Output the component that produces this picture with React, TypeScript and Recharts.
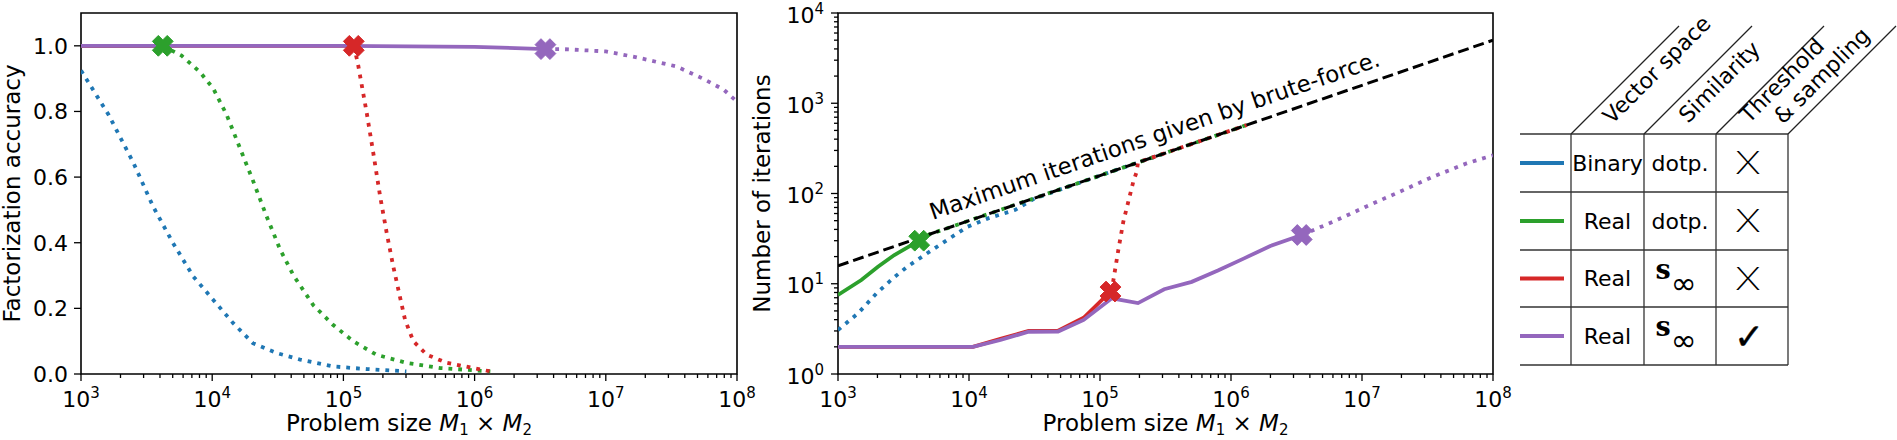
import { CartesianGrid, ComposedChart, Line, ReferenceArea, Scatter, XAxis, YAxis } from "recharts"

const FONT = "DejaVu Sans"
const BLUE = "#1f77b4"
const GREEN = "#2ca02c"
const RED = "#d62728"
const PURPLE = "#9467bd"

// ---- ticks ----
const xDecades = [3, 4, 5, 6, 7, 8]
const yDecades = [0, 1, 2, 3, 4]
const minorSteps = [2, 3, 4, 5, 6, 7, 8, 9]
const accTicks = [0, 0.2, 0.4, 0.6, 0.8, 1.0]

const logTicks = (decades: number[]) =>
  [
    ...decades.map((d) => 10 ** d),
    ...decades.slice(0, -1).flatMap((d) => minorSteps.map((m) => m * 10 ** d)),
  ].sort((a, b) => a - b)
const xTicks = logTicks(xDecades)
const yTicks = logTicks(yDecades)
const xMajor = xDecades.map((d) => 10 ** d)
const yMajor = yDecades.map((d) => 10 ** d)

// ---- left panel: factorization accuracy ----
const blueAccX = [1000, 1622, 2512, 3548, 5012, 7178, 10233, 14454, 20417, 30903, 46774, 83176, 151356, 301995]
const blueAcc = [0.925, 0.79, 0.643, 0.51, 0.4, 0.297, 0.225, 0.155, 0.094, 0.064, 0.044, 0.023, 0.015, 0.008]

const greenSolidAccX = [1000, 4200]
const greenSolidAcc = [1, 1]
const greenAccX = [4200, 5848, 8072, 10186, 12882, 16218, 20417, 26002, 32885, 41687, 58884, 83176, 118850, 177828, 301995, 549541, 1318257]
const greenAcc = [1.0, 0.97, 0.92, 0.87, 0.79, 0.69, 0.59, 0.48, 0.38, 0.3, 0.21, 0.15, 0.1, 0.059, 0.034, 0.018, 0.008]

const redSolidAccX = [1000, 120000]
const redSolidAcc = [1, 1]
const redAccX = [120000, 128825, 150661, 169044, 190546, 213796, 239883, 269153, 295121, 341193, 431519, 612350, 1318257]
const redAcc = [1.0, 0.947, 0.795, 0.673, 0.541, 0.43, 0.328, 0.237, 0.165, 0.1, 0.059, 0.034, 0.008]

const purpleSolidAccX = [1000, 100000, 1000000, 3467369]
const purpleSolidAcc = [1.0, 1.0, 0.997, 0.99]
const purpleAccX = [3467369, 4677351, 10000000, 17179084, 34673685, 54954087, 79432823, 100000000]
const purpleAcc = [0.99, 0.99, 0.983, 0.965, 0.937, 0.9, 0.866, 0.83]

const accMarkX = [4200, 120000, 3467369]
const accMarkY = [1.0, 1.0, 0.99]

// ---- right panel: number of iterations ----
const maxIterX = [1e3, 1e4, 1e5, 1e6, 1e7, 1e8]
const maxIter = [15.8, 50, 158, 500, 1581, 5000]

const blueIterX = [1000, 1422, 1963, 2630, 3388, 4571, 6918, 9772, 13964, 22387, 31623, 100000, 301995]
const blueIter = [3.07, 4.7, 7.8, 11.5, 15.5, 20.8, 31, 42.9, 53, 65.6, 88, 158, 274]

const greenSolidIterX = [1000, 1507, 2018, 2692, 4169]
const greenSolidIter = [7.5, 11.0, 15.4, 20.8, 30]
const greenIterX = [4169, 5000, 10000, 100000, 1000000, 1318257]
const greenIter = [30, 35.3, 50, 158, 500, 574]

const redSolidIterX = [1000, 10715, 17378, 28510, 47863, 74989, 120226]
const redSolidIter = [2, 2, 2.45, 3.0, 3.02, 4.2, 8.2]
const redIterX = [120226, 125893, 138038, 150661, 164437, 179473, 190546, 194984, 1000000, 1318257]
const redIter = [8.2, 10.5, 23.7, 48.7, 81, 135, 174, 221, 500, 574]

const purpleSolidIterX = [1000, 10715, 17378, 28510, 47863, 74989, 123027, 194984, 309030, 501187, 794328, 1258925, 1995262, 3467369]
const purpleSolidIter = [2, 2, 2.38, 2.94, 2.95, 3.97, 6.9, 6.1, 8.7, 10.5, 14, 19.1, 26.2, 34.7]
const purpleIterX = [3467369, 6025596, 10715193, 19498446, 34673685, 63095734, 100000000]
const purpleIter = [34.7, 48.7, 71.4, 105, 153, 216, 265]

const iterMarkX = [4169, 120226, 3467369]
const iterMarkY = [30, 8.2, 34.7]

const annotationText = "Maximum iterations given by brute-force."
const annotationAt = [{ x: 5300, y: 51 }]

// ---- legend table ----
const legendColors = [BLUE, GREEN, RED, PURPLE]
const vectorSpace = ["Binary", "Real", "Real", "Real"]
const similarity = ["dotp.", "dotp.", "s∞", "s∞"]
const thresholdSampling = [false, false, false, true]

const pts = (xs: number[], ys: number[]) => xs.map((x, i) => ({ x, y: ys[i] }))
const markColors = [GREEN, RED, PURPLE]

const isMajor = (v: number) => {
  const e = Math.log10(v)
  return Math.abs(e - Math.round(e)) < 1e-6
}

const LogXTick = ({ x, y, payload }: any) => {
  const v = payload.value
  const major = isMajor(v)
  return (
    <g>
      <line x1={x} y1={y} x2={x} y2={y + (major ? 7 : 4)} stroke="#000" strokeWidth={1.3} />
      {major && (
        <text x={x} y={y + 33} textAnchor="middle" fontSize={22} fontFamily={FONT} fill="#000">
          10
          <tspan dy={-9} fontSize={15}>
            {Math.round(Math.log10(v))}
          </tspan>
        </text>
      )}
    </g>
  )
}

const LogYTick = ({ x, y, payload }: any) => {
  const v = payload.value
  const major = isMajor(v)
  return (
    <g>
      <line x1={x} y1={y} x2={x - (major ? 7 : 4)} y2={y} stroke="#000" strokeWidth={1.3} />
      {major && (
        <text x={x - 14} y={y + 9.5} textAnchor="end" fontSize={22} fontFamily={FONT} fill="#000">
          10
          <tspan dy={-9} fontSize={15}>
            {Math.round(Math.log10(v))}
          </tspan>
        </text>
      )}
    </g>
  )
}

const AccTick = ({ x, y, payload }: any) => (
  <g>
    <line x1={x} y1={y} x2={x - 7} y2={y} stroke="#000" strokeWidth={1.3} />
    <text x={x - 13} y={y + 8} textAnchor="end" fontSize={22} fontFamily={FONT} fill="#000">
      {payload.value.toFixed(1)}
    </text>
  </g>
)

const XMark = ({ cx, cy, color }: any) => {
  const L = 10.5
  const a = 4.2
  const base = [
    [a, L], [a, a], [L, a], [L, -a], [a, -a], [a, -L],
    [-a, -L], [-a, -a], [-L, -a], [-L, a], [-a, a], [-a, L],
  ]
  const c = Math.SQRT1_2
  const p = base.map(([px, py]) => `${cx + (px - py) * c},${cy + (px + py) * c}`).join(" ")
  return <polygon points={p} fill={color} stroke={color} strokeWidth={1} strokeLinejoin="round" />
}

const gridX = (vals: number[]) => ({ xAxis }: any) =>
  typeof xAxis?.scale === "function" ? vals.map((v) => xAxis.scale(v)) : []
const gridY = (vals: number[]) => ({ yAxis }: any) =>
  typeof yAxis?.scale === "function" ? vals.map((v) => yAxis.scale(v)) : []

const solid = (data: any[], color: string) => (
  <Line data={data} dataKey="y" type="linear" stroke={color} strokeWidth={3.8} dot={false} activeDot={false} isAnimationActive={false} />
)
const dotted = (data: any[], color: string) => (
  <Line data={data} dataKey="y" type="linear" stroke={color} strokeWidth={3.8} strokeDasharray="3.8 6" dot={false} activeDot={false} isAnimationActive={false} />
)
const marker = (x: number, y: number, color: string) => (
  <Scatter data={[{ x, y }]} dataKey="y" shape={(p: any) => <XMark cx={p.cx} cy={p.cy} color={color} />} isAnimationActive={false} />
)

function AccuracyChart() {
  return (
    <ComposedChart width={770} height={440} margin={{ top: 13, right: 33, bottom: 26, left: 0 }}>
      <CartesianGrid stroke="#b0b0b0" strokeWidth={1.5} verticalCoordinatesGenerator={gridX(xMajor.slice(1, -1))} horizontalCoordinatesGenerator={gridY(accTicks.slice(1))} />
      <XAxis dataKey="x" type="number" scale="log" domain={[1e3, 1e8]} allowDataOverflow ticks={xTicks} interval={0} tick={(p: any) => <LogXTick {...p} />} tickLine={false} axisLine={false} tickSize={0} tickMargin={0} height={40} />
      <YAxis type="number" domain={[0, 1.1]} allowDataOverflow ticks={accTicks} interval={0} tick={(p: any) => <AccTick {...p} />} tickLine={false} axisLine={false} tickSize={0} tickMargin={0} width={81} />
      {dotted(pts(blueAccX, blueAcc), BLUE)}
      {solid(pts(greenSolidAccX, greenSolidAcc), GREEN)}
      {dotted(pts(greenAccX, greenAcc), GREEN)}
      {marker(accMarkX[0], accMarkY[0], markColors[0])}
      {solid(pts(redSolidAccX, redSolidAcc), RED)}
      {dotted(pts(redAccX, redAcc), RED)}
      {marker(accMarkX[1], accMarkY[1], markColors[1])}
      {solid(pts(purpleSolidAccX, purpleSolidAcc), PURPLE)}
      {dotted(pts(purpleAccX, purpleAcc), PURPLE)}
      {marker(accMarkX[2], accMarkY[2], markColors[2])}
      <ReferenceArea x1={1e3} x2={1e8} y1={0} y2={1.1} fill="none" stroke="#000" strokeWidth={1.6} />
    </ComposedChart>
  )
}

function IterationsChart() {
  return (
    <ComposedChart width={760} height={440} margin={{ top: 13, right: 37, bottom: 26, left: 0 }}>
      <CartesianGrid stroke="#b0b0b0" strokeWidth={1.5} verticalCoordinatesGenerator={gridX(xMajor.slice(1, -1))} horizontalCoordinatesGenerator={gridY(yMajor.slice(1, -1))} />
      <XAxis dataKey="x" type="number" scale="log" domain={[1e3, 1e8]} allowDataOverflow ticks={xTicks} interval={0} tick={(p: any) => <LogXTick {...p} />} tickLine={false} axisLine={false} tickSize={0} tickMargin={0} height={40} />
      <YAxis type="number" scale="log" domain={[1, 1e4]} allowDataOverflow ticks={yTicks} interval={0} tick={(p: any) => <LogYTick {...p} />} tickLine={false} axisLine={false} tickSize={0} tickMargin={0} width={68} />
      {dotted(pts(blueIterX, blueIter), BLUE)}
      {solid(pts(greenSolidIterX, greenSolidIter), GREEN)}
      {dotted(pts(greenIterX, greenIter), GREEN)}
      {marker(iterMarkX[0], iterMarkY[0], markColors[0])}
      {solid(pts(redSolidIterX, redSolidIter), RED)}
      {dotted(pts(redIterX, redIter), RED)}
      {marker(iterMarkX[1], iterMarkY[1], markColors[1])}
      {solid(pts(purpleSolidIterX, purpleSolidIter), PURPLE)}
      {dotted(pts(purpleIterX, purpleIter), PURPLE)}
      {marker(iterMarkX[2], iterMarkY[2], markColors[2])}
      <Line data={pts(maxIterX, maxIter)} dataKey="y" type="linear" stroke="#000" strokeWidth={3} strokeDasharray="11 5" dot={false} activeDot={false} isAnimationActive={false} />
      <Scatter
        data={annotationAt}
        dataKey="y"
        isAnimationActive={false}
        shape={(p: any) => (
          <text x={p.cx} y={p.cy} transform={`rotate(-19 ${p.cx} ${p.cy})`} fontSize={22.8} fontFamily={FONT} fill="#000">
            {annotationText}
          </text>
        )}
      />
      <ReferenceArea x1={1e3} x2={1e8} y1={1} y2={1e4} fill="none" stroke="#000" strokeWidth={1.6} />
    </ComposedChart>
  )
}

const Sub = ({ children }: any) => (
  <>
    <tspan fontStyle="italic">M</tspan>
    <tspan fontSize={15} dy={4}>{children}</tspan>
  </>
)

function Overlay() {
  const colX = [1571, 1644, 1716, 1788]
  const rowY = [134, 192, 250, 307, 365]
  const mid = [(colX[0] + colX[1]) / 2, (colX[1] + colX[2]) / 2, (colX[2] + colX[3]) / 2]
  const t = { fontFamily: FONT, fill: "#000" }
  const xLabel = (cx: number) => (
    <text x={cx} y={431} textAnchor="middle" fontSize={23} {...t}>
      Problem size <Sub>1</Sub>
      <tspan dy={-4}> × </tspan>
      <Sub>2</Sub>
    </text>
  )
  return (
    <svg width={1897} height={440} style={{ position: "absolute", left: 0, top: 0, pointerEvents: "none" }}>
      <text transform="translate(20,193.5) rotate(-90)" textAnchor="middle" fontSize={23} {...t}>
        Factorization accuracy
      </text>
      <text transform="translate(770,193.5) rotate(-90)" textAnchor="middle" fontSize={23} {...t}>
        Number of iterations
      </text>
      {xLabel(409)}
      {xLabel(1165.5)}

      {/* legend table */}
      {rowY.map((y) => (
        <line key={y} x1={1520} x2={colX[3]} y1={y} y2={y} stroke="#333" strokeWidth={1.3} />
      ))}
      {colX.map((x) => (
        <g key={x}>
          <line x1={x} x2={x} y1={rowY[0]} y2={rowY[4]} stroke="#333" strokeWidth={1.3} />
          <line x1={x} x2={x + 108} y1={rowY[0]} y2={rowY[0] - 108} stroke="#222" strokeWidth={1.3} />
        </g>
      ))}
      <text transform="translate(1612,125) rotate(-45)" fontSize={22} {...t}>Vector space</text>
      <text transform="translate(1688,124) rotate(-45)" fontSize={22} {...t}>Similarity</text>
      <text transform="translate(1749,124) rotate(-45)" fontSize={22} {...t}>Threshold</text>
      <text transform="translate(1783,125) rotate(-45)" fontSize={22} {...t}>&amp; sampling</text>
      {legendColors.map((c, i) => {
        const cy = (rowY[i] + rowY[i + 1]) / 2
        const sim = similarity[i]
        const check = thresholdSampling[i]
        return (
          <g key={i}>
            <line x1={1520} x2={1564} y1={cy} y2={cy} stroke={c} strokeWidth={4} />
            <text x={mid[0]} y={cy + 7.5} textAnchor="middle" fontSize={22} {...t}>{vectorSpace[i]}</text>
            {sim === "s∞" ? (
              <text x={mid[1] - 4} y={cy} textAnchor="middle" {...t}>
                <tspan fontFamily="DejaVu Serif" fontWeight="bold" fontSize={27}>s</tspan>
                <tspan fontSize={31} dy={15}>∞</tspan>
              </text>
            ) : (
              <text x={mid[1]} y={cy + 7.5} textAnchor="middle" fontSize={22} {...t}>{sim}</text>
            )}
            {check ? (
              <text x={mid[2] - 3} y={cy + 13} textAnchor="middle" fontSize={36} stroke="#000" strokeWidth={0.4} {...t}>
                ✓
              </text>
            ) : (
              <text
                transform={`translate(${mid[2] - 4},${cy + 11}) scale(1.3,1)`}
                textAnchor="middle"
                fontSize={31}
                fontFamily="Inter"
                fontWeight={200}
                fill="#000"
              >
                X
              </text>
            )}
          </g>
        )
      })}
    </svg>
  )
}

export default function App() {
  return (
    <div style={{ position: "absolute", left: 0, top: 0, width: 1897, height: 440, background: "#fff", fontFamily: FONT }}>
      <div style={{ position: "absolute", left: 0, top: 0 }}>
        <AccuracyChart />
      </div>
      <div style={{ position: "absolute", left: 770, top: 0 }}>
        <IterationsChart />
      </div>
      <Overlay />
    </div>
  )
}
